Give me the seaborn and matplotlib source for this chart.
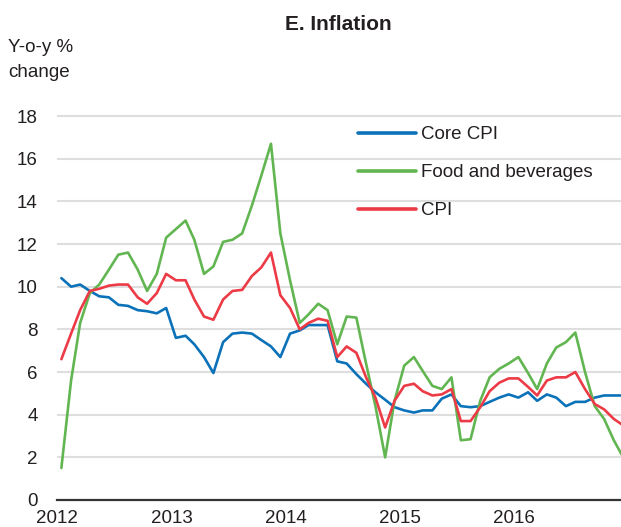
import numpy as np
import pandas as pd
import matplotlib
matplotlib.use("Agg")
import matplotlib.pyplot as plt
import matplotlib.dates as mdates
import seaborn as sns

# ---- data (monthly, y-o-y % change) ----
months = pd.date_range("2012-01-01", periods=60, freq="MS") + pd.Timedelta(days=14)

core_cpi = [10.4, 10.0, 10.1, 9.8, 9.55, 9.5, 9.15, 9.1, 8.9, 8.85, 8.75, 9.0,
            7.6, 7.7, 7.3, 6.7, 5.95, 7.4, 7.8, 7.85, 7.8, 7.5, 7.2, 6.7,
            7.8, 7.95, 8.2, 8.2, 8.2, 6.5, 6.4, 5.9, 5.45, 5.05, 4.7, 4.35,
            4.2, 4.1, 4.2, 4.2, 4.75, 4.95, 4.4, 4.35, 4.4, 4.6, 4.8, 4.95,
            4.8, 5.05, 4.65, 4.95, 4.8, 4.4, 4.6, 4.6, 4.8, 4.9, 4.9, 4.9]

food_bev = [1.5, 5.6, 8.3, 9.7, 10.1, 10.8, 11.5, 11.6, 10.8, 9.8, 10.6, 12.3,
            12.7, 13.1, 12.2, 10.6, 10.95, 12.1, 12.2, 12.5, 13.8, 15.2, 16.7, 12.5,
            10.3, 8.3, 8.7, 9.2, 8.9, 7.3, 8.6, 8.55, 6.4, 4.4, 2.0, 4.65,
            6.3, 6.7, 6.05, 5.35, 5.2, 5.75, 2.8, 2.85, 4.65, 5.75, 6.15, 6.4,
            6.7, 5.95, 5.2, 6.4, 7.15, 7.4, 7.85, 6.0, 4.4, 3.8, 2.8, 2.0]

cpi = [6.6, 7.8, 8.9, 9.8, 9.9, 10.05, 10.1, 10.1, 9.5, 9.2, 9.7, 10.6,
       10.3, 10.3, 9.4, 8.6, 8.45, 9.4, 9.8, 9.85, 10.5, 10.9, 11.6, 9.6,
       9.0, 8.0, 8.3, 8.5, 8.4, 6.7, 7.2, 6.9, 5.75, 4.8, 3.4, 4.65,
       5.35, 5.45, 5.1, 4.9, 4.95, 5.2, 3.7, 3.7, 4.35, 5.1, 5.5, 5.7,
       5.7, 5.3, 4.9, 5.6, 5.75, 5.75, 6.0, 5.2, 4.5, 4.25, 3.8, 3.5]

series_names = ["Core CPI", "Food and beverages", "CPI"]
series_colors = ["#0B72B9", "#62B651", "#EC3B46"]
y_ticks = [0, 2, 4, 6, 8, 10, 12, 14, 16, 18]

df = pd.DataFrame({
    "date": np.concatenate([months, months, months]),
    "value": core_cpi + food_bev + cpi,
    "series": np.repeat(series_names, len(months)),
})

# ---- style ----
sns.set_style("white")
plt.rcParams["font.family"] = ["Liberation Sans", "DejaVu Sans"]
text_color = "#231F20"

fig = plt.figure(figsize=(6.21, 5.27), dpi=100)
ax = fig.add_axes([57 / 621, 27 / 527, 1 - 57 / 621, 392.5 / 527])

sns.lineplot(data=df, x="date", y="value", hue="series", hue_order=series_names,
             palette=series_colors, linewidth=1.9, ax=ax, legend=True)

ax.set_ylim(0, 18.4)
ax.set_xlim(pd.Timestamp("2012-01-01"), pd.Timestamp("2016-12-08"))
ax.set_yticks(y_ticks)
ax.yaxis.grid(True, color="#DEDEDE", linewidth=1.5)
ax.set_axisbelow(True)

for s in ["top", "right", "left"]:
    ax.spines[s].set_visible(False)
ax.spines["bottom"].set_color("#333333")
ax.spines["bottom"].set_linewidth(1.6)

ax.xaxis.set_major_locator(mdates.YearLocator())
ax.xaxis.set_major_formatter(mdates.DateFormatter("%Y"))
ax.xaxis.set_minor_locator(mdates.MonthLocator())
ax.tick_params(axis="x", which="major", direction="inout", length=9, width=1.5,
               color="#333333", pad=3, labelsize=13.5, labelcolor=text_color)
ax.tick_params(axis="x", which="minor", direction="in", length=5, width=1.2,
               color="#9A9A9A")
ax.tick_params(axis="y", length=0, pad=14, labelsize=13.5, labelcolor=text_color)
ax.set_xlabel("")
ax.set_ylabel("")

handles, labels = ax.get_legend_handles_labels()
ax.legend(handles, labels, loc="upper left", bbox_to_anchor=(358 / 621, 1 - 126 / 527),
          bbox_transform=fig.transFigure, frameon=False, fontsize=13.5,
          handlelength=3.1, handletextpad=0.25, labelspacing=1.12,
          borderpad=0, borderaxespad=0, labelcolor=text_color)
for line in ax.get_legend().get_lines():
    line.set_linewidth(2.6)

fig.text(338 / 621, 1 - 25 / 527, "E. Inflation", ha="center", va="center",
         fontsize=15, fontweight="bold", color=text_color)
fig.text(8 / 621, 1 - 39 / 527, "Y-o-y %\nchange", ha="left", va="top",
         fontsize=13.5, color=text_color, linespacing=1.6)

fig.savefig("out.png", dpi=100)
